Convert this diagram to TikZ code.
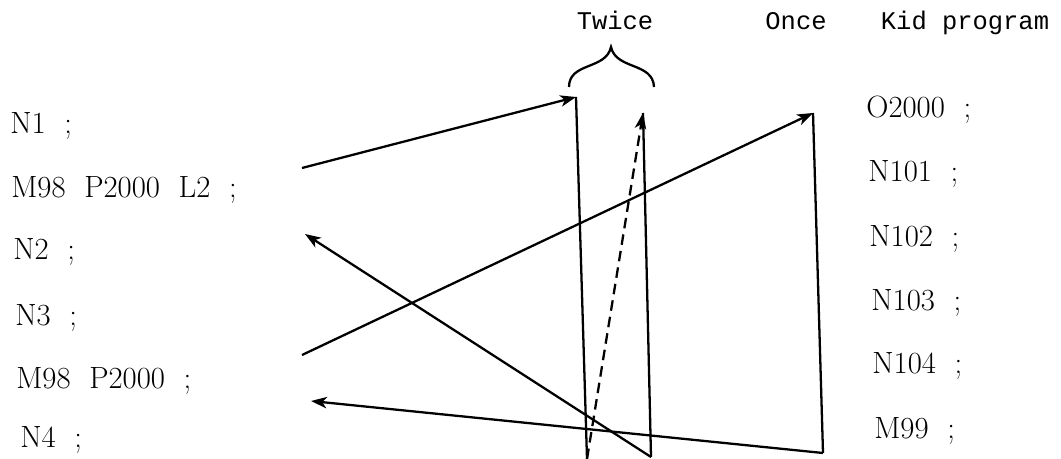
\documentclass[tikz,border=0pt]{standalone}
\usepackage{fontspec}
\usepackage{tikz}
\usetikzlibrary{arrows.meta, calc, positioning}
\newfontfamily\codefont{Liberation Mono}

\begin{document}
\begin{tikzpicture}[
  x=0.02cm, y=-0.02cm,
  prog/.style    = {font=\fontsize{17.5}{21}\selectfont, anchor=base west, inner sep=0pt},
  head/.style    = {font=\codefont\fontsize{14.5}{17}\selectfont, anchor=base, inner sep=0pt},
  path/.style    = {line width=1.3pt, line join=miter},
  arr/.style     = {path, -{Stealth[length=9pt,width=6.5pt,inset=2.5pt]}},
  dasharr/.style = {arr, dash pattern=on 6pt off 3.5pt},
]
\useasboundingbox (0,0) rectangle (1061,459);
% main program
\node[prog] (n1)    at (10, 134)  {N1~~;};
\node[prog] (callA) at (11, 197)  {M98~~P2000~~L2~~;};
\node[prog] (n2)    at (13, 259)  {N2~~;};
\node[prog] (n3)    at (15, 325)  {N3~~;};
\node[prog] (callB) at (16, 388)  {M98~~P2000~~;};
\node[prog] (n4)    at (20, 447)  {N4~~;};
% kid program
\node[prog] (o2000) at (866, 118) {O2000~~;};
\node[prog] (n101)  at (868, 182) {N101~~;};
\node[prog] (n102)  at (869, 247) {N102~~;};
\node[prog] (n103)  at (871, 310) {N103~~;};
\node[prog] (n104)  at (872, 373) {N104~~;};
\node[prog] (m99)   at (874, 438) {M99~~;};
% headings
\node[head] (twice) at (615, 30)  {Twice};
\node[head] (once)  at (796, 30)  {Once};
\node[head] (kid)   at (965, 30)  {Kid program};
\draw[line width=1.3pt] (569,87) .. controls (569,62) and (606,70) .. (611,47)
  .. controls (616,70) and (653,62) .. (654,87);
% turning points
\coordinate (callAout) at (302,168);
\coordinate (topA)     at (576,97);
\coordinate (botA)     at (587,459);
\coordinate (topB)     at (643,113);
\coordinate (botB)     at (651,457);
\coordinate (retA)     at (305,234);
\coordinate (callBout) at (302,355);
\coordinate (topC)     at (813,113);
\coordinate (botC)     at (823,453);
\coordinate (retB)     at (311,401);
% twice
\draw[arr] (callAout) -- (topA);
\draw[path] (topA) -- (botA);
\draw[dasharr] (botA) -- (topB);
\draw[path] (topB) -- (botB);
\draw[arr] (botB) -- (retA);
% once
\draw[arr] (callBout) -- (topC);
\draw[path] (topC) -- (botC);
\draw[arr] (botC) -- (retB);
\end{tikzpicture}
\end{document}
